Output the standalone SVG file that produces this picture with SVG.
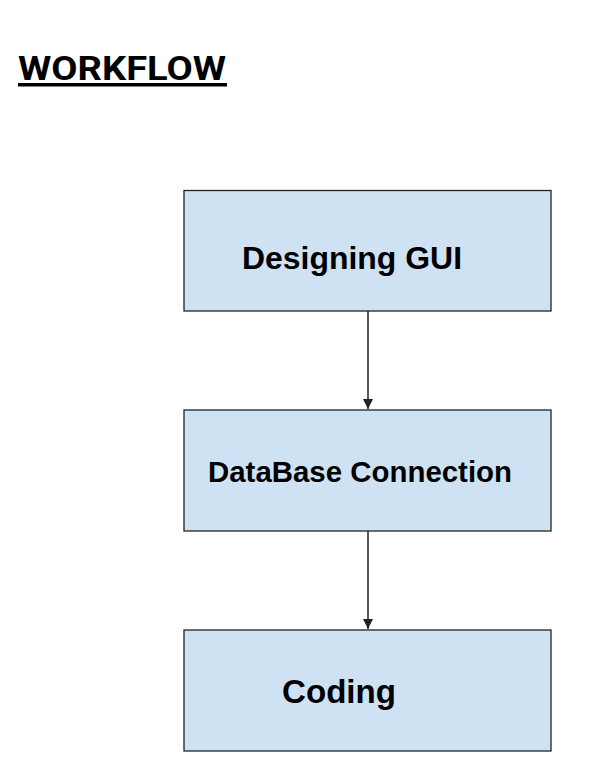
<svg xmlns="http://www.w3.org/2000/svg" width="610" height="777" viewBox="0 0 610 777">
<style>
.box{fill:#cfe2f3;stroke:#222;stroke-width:1.3}
.lbl{font-family:"Liberation Sans",Arial,sans-serif;font-weight:bold;fill:#000}
.title{font-family:Roboto,"Liberation Sans",Arial,sans-serif;font-weight:bold;fill:#000}
.conn{stroke:#222;stroke-width:1.5;fill:none}
</style>
<defs>
<marker id="arr" viewBox="0 0 10 10" refX="10" refY="5" markerWidth="7" markerHeight="7" orient="auto" markerUnits="strokeWidth">
<path d="M0,0 L10,5 L0,10 z" fill="#222"/>
</marker>
</defs>
<rect width="610" height="777" fill="#fff"/>
<g id="title">
<text class="title" x="18" y="80" font-size="33" textLength="208" lengthAdjust="spacingAndGlyphs">WORKFLOW</text>
<rect x="18" y="83" width="209" height="3.5" fill="#000"/>
</g>
<g id="node-designing">
<rect class="box" x="184" y="190.5" width="367" height="120.5"/>
<text class="lbl" x="242" y="269" font-size="32" textLength="220" lengthAdjust="spacingAndGlyphs">Designing GUI</text>
</g>
<g id="node-database">
<rect class="box" x="184" y="410" width="367" height="121"/>
<text class="lbl" x="208" y="482" font-size="29.5" textLength="304" lengthAdjust="spacingAndGlyphs">DataBase Connection</text>
</g>
<g id="node-coding">
<rect class="box" x="184" y="630" width="367" height="121"/>
<text class="lbl" x="282" y="703" font-size="34" textLength="114" lengthAdjust="spacingAndGlyphs">Coding</text>
</g>
<g id="connectors">
<line class="conn" x1="368" y1="311" x2="368" y2="409" marker-end="url(#arr)"/>
<line class="conn" x1="368" y1="531" x2="368" y2="629" marker-end="url(#arr)"/>
</g>
</svg>
